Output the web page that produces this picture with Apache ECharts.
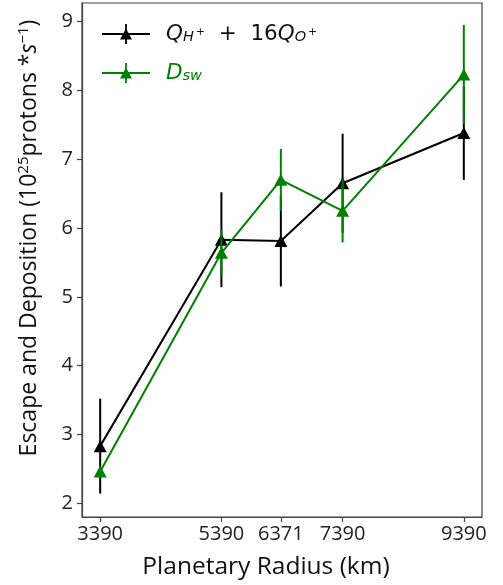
<!DOCTYPE html>
<html>
<head>
<meta charset="utf-8">
<script src="https://cdn.jsdelivr.net/npm/echarts@6/dist/echarts.min.js"></script>
<style>
html,body{margin:0;padding:0;background:#fff;}
#c{width:503px;height:585px;}
</style>
</head>
<body>
<div id="c"></div>
<script>
// Data
var radii = [3390, 5390, 6371, 7390, 9390];
var xTicks = [3390, 5390, 6371, 7390, 9390];
var yTicks = [2, 3, 4, 5, 6, 7, 8, 9];
var escape = [2.83, 5.83, 5.81, 6.65, 7.38];
var escapeErr = [0.69, 0.69, 0.66, 0.72, 0.68];
var deposition = [2.46, 5.64, 6.70, 6.25, 8.23];
var depositionErr = [0.05, 0.33, 0.45, 0.46, 0.72];

var FONT = 'Open Sans';
var MATH = 'DejaVu Sans';
var BLACK = '#000000';
var GREEN = '#008000';

function pairs(ys) { return radii.map(function (x, i) { return [x, ys[i]]; }); }
function bars(ys, es) { return radii.map(function (x, i) { return [x, ys[i] - es[i], ys[i] + es[i]]; }); }

function errRender(color) {
  return function (params, api) {
    var x = api.value(0), lo = api.value(1), hi = api.value(2);
    var p1 = api.coord([x, lo]), p2 = api.coord([x, hi]);
    return { type: 'line', shape: { x1: p1[0], y1: p1[1], x2: p2[0], y2: p2[1] },
      style: { stroke: color, lineWidth: 2 } };
  };
}

var legendIcon = 'path://M0,9.1 L48,9.1 L48,10.9 L0,10.9 Z M23.1,0 L24.9,0 L24.9,20 L23.1,20 Z M18,15.5 L24,4.5 L30,15.5 Z';

var chart = echarts.init(document.getElementById('c'), null, { renderer: 'canvas' });
chart.setOption({
  animation: false,
  backgroundColor: '#ffffff',
  grid: { left: 82, right: 21, top: 3, bottom: 67, show: true, borderColor: '#444', borderWidth: 1.2, backgroundColor: 'transparent' },
  xAxis: {
    type: 'value', min: 3090, max: 9690,
    name: 'Planetary Radius (km)', nameLocation: 'middle', nameGap: 38,
    nameTextStyle: { fontFamily: FONT, fontSize: 24.5, color: '#111', padding: [0, 32, 0, 0] },
    axisLine: { show: true, lineStyle: { color: '#444', width: 1.2 } },
    axisTick: { show: true, length: 5, customValues: xTicks, lineStyle: { color: '#444', width: 1.2 } },
    axisLabel: { customValues: xTicks, fontFamily: FONT, fontSize: 20, color: '#222', margin: 7,
      formatter: function (v) { return String(v); } },
    splitLine: { show: false }
  },
  yAxis: {
    type: 'value', min: 1.80, max: 9.27,
    name: 'Escape and Deposition (10{sup|25}protons *{it|s}{sup|−1})',
    nameLocation: 'middle', nameGap: 40,
    nameTextStyle: { fontFamily: FONT, fontSize: 23, color: '#111', padding: [0, 0, 0, 44],
      rich: {
        sup: { fontFamily: FONT, fontSize: 15, color: '#111', padding: [0, 0, 11, 0] },
        it: { fontFamily: FONT, fontSize: 23, color: '#111', fontStyle: 'italic' }
      } },
    axisLine: { show: true, lineStyle: { color: '#444', width: 1.2 } },
    axisTick: { show: true, length: 5, customValues: yTicks, lineStyle: { color: '#444', width: 1.2 } },
    axisLabel: { customValues: yTicks, fontFamily: FONT, fontSize: 20, color: '#222', margin: 9 },
    splitLine: { show: false }
  },
  legend: {
    orient: 'vertical', left: 97, top: 18, itemWidth: 48, itemHeight: 20, itemGap: 17,
    icon: legendIcon,
    data: ['Q', 'D'],
    formatter: function (name) {
      return name === 'Q' ? '{q|Q}{sub|H}{sup|+}{n|  +  16}{q|Q}{sub|O}{sup|+}' : '{gq|D}{gsub|sw}';
    },
    textStyle: {
      fontFamily: MATH, fontSize: 21, padding: [0, 0, 0, 11],
      rich: {
        q: { fontFamily: MATH, fontSize: 21.5, fontStyle: 'italic', color: '#111' },
        n: { fontFamily: MATH, fontSize: 21.5, color: '#111' },
        sub: { fontFamily: MATH, fontSize: 14.5, fontStyle: 'italic', color: '#111', padding: [7, 2, 0, 0] },
        sup: { fontFamily: MATH, fontSize: 11, color: '#111', padding: [0, 0, 3, 0] },
        gq: { fontFamily: MATH, fontSize: 21.5, fontStyle: 'italic', color: GREEN },
        gsub: { fontFamily: MATH, fontSize: 14.5, fontStyle: 'italic', color: GREEN, padding: [7, 0, 0, 0] }
      }
    }
  },
  series: [
    { type: 'custom', name: 'Qerr', renderItem: errRender(BLACK), data: bars(escape, escapeErr), encode: { x: 0, y: [1, 2] }, z: 2, silent: true },
    { type: 'line', name: 'Q', data: pairs(escape), color: BLACK, symbol: 'triangle', symbolSize: [13, 12], showSymbol: true,
      lineStyle: { color: BLACK, width: 2 }, itemStyle: { color: BLACK }, z: 3 },
    { type: 'custom', name: 'Derr', renderItem: errRender(GREEN), data: bars(deposition, depositionErr), encode: { x: 0, y: [1, 2] }, z: 4, silent: true },
    { type: 'line', name: 'D', data: pairs(deposition), color: GREEN, symbol: 'triangle', symbolSize: [13, 12], showSymbol: true,
      lineStyle: { color: GREEN, width: 2 }, itemStyle: { color: GREEN }, z: 5 }
  ]
});
</script>
</body>
</html>
